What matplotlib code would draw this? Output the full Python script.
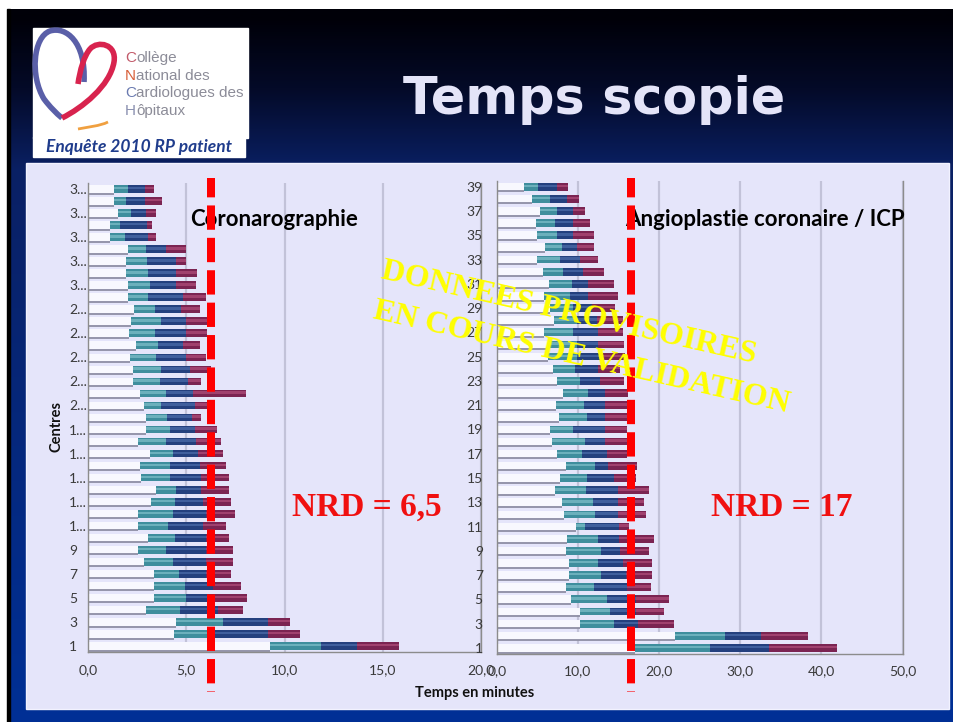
import matplotlib
matplotlib.use('Agg')
import matplotlib.pyplot as plt
import numpy as np
from matplotlib.path import Path
from matplotlib.patches import PathPatch, Rectangle

W, H = 954, 722

centres = np.arange(1, 40)

# Coronarographie : bornes des segments en minutes
coro_debut = [9.25, 4.36, 4.47, 2.97, 3.34, 3.34, 3.34, 2.85, 2.55, 3.06,
              2.55, 2.55, 3.23, 3.48, 2.72, 2.63, 3.14, 2.55, 2.94, 2.94,
              2.85, 2.63, 2.29, 2.29, 2.12, 2.43, 2.07, 2.20, 2.33, 2.04,
              2.04, 1.92, 1.92, 2.04, 1.10, 1.10, 1.53, 1.32, 1.31]
coro_lim1 = [11.88, 6.45, 6.88, 4.67, 4.97, 4.92, 4.63, 4.33, 3.99, 4.41,
             4.07, 4.33, 4.41, 4.47, 4.16, 4.16, 4.33, 3.96, 4.16, 4.00,
             3.74, 3.96, 3.65, 3.74, 3.48, 3.57, 3.40, 3.74, 3.40, 3.06,
             3.17, 3.06, 3.00, 2.94, 1.87, 1.61, 2.20, 1.95, 2.04]
coro_lim2 = [13.67, 9.17, 9.17, 6.62, 6.45, 6.37, 6.03, 6.03, 6.03, 6.03,
             5.86, 6.03, 5.86, 5.77, 5.77, 5.69, 5.60, 5.52, 5.43, 5.30,
             5.43, 5.35, 5.09, 5.18, 4.97, 4.84, 4.97, 5.00, 4.75, 4.84,
             4.47, 4.50, 4.47, 3.96, 3.06, 3.00, 2.97, 2.89, 2.90]
coro_fin = [15.82, 10.8, 10.3, 7.90, 8.10, 7.81, 7.30, 7.39, 7.39, 7.18,
            7.00, 7.47, 7.30, 7.18, 7.18, 7.00, 6.88, 6.79, 6.57, 5.77,
            6.30, 8.06, 5.77, 6.28, 6.03, 5.69, 6.06, 6.10, 5.69, 6.03,
            5.48, 5.57, 4.97, 4.97, 3.46, 3.26, 3.46, 3.77, 3.36]

# Angioplastie coronaire / ICP
icp_debut = [17.0, 22.0, 10.3, 10.2, 9.15, 8.54, 8.95, 8.90, 8.50, 8.70,
             9.77, 8.33, 8.00, 7.18, 7.80, 8.54, 7.47, 6.77, 6.57, 7.70,
             7.30, 8.13, 7.47, 6.90, 6.36, 6.36, 5.83, 7.00, 6.60, 5.83,
             6.49, 5.67, 4.93, 5.95, 4.93, 4.84, 5.34, 4.39, 3.37]
icp_lim1 = [26.3, 28.1, 14.4, 13.96, 13.6, 12.0, 12.9, 12.5, 12.9, 12.5,
            10.88, 12.1, 11.9, 11.0, 11.1, 12.1, 10.47, 10.88, 9.44, 11.1,
            10.7, 11.29, 10.26, 9.60, 9.85, 9.85, 9.44, 9.85, 9.40, 9.03,
            9.24, 8.21, 7.80, 8.00, 7.47, 7.18, 7.39, 6.57, 5.13]
icp_lim2 = [33.5, 32.6, 17.4, 17.2, 17.2, 16.0, 15.9, 15.6, 15.2, 15.1,
            15.1, 14.98, 14.98, 14.98, 14.45, 13.75, 13.55, 13.34, 13.34, 13.3,
            13.3, 13.34, 12.7, 12.5, 12.7, 12.5, 12.5, 12.3, 11.7, 11.29,
            11.29, 10.67, 10.26, 9.85, 9.44, 9.44, 9.44, 8.62, 7.47]
icp_fin = [41.9, 38.3, 21.8, 20.6, 21.2, 18.97, 19.1, 19.1, 18.76, 19.4,
           16.3, 18.35, 18.14, 18.76, 17.2, 17.3, 16.1, 16.1, 16.0, 16.0,
           16.2, 16.2, 15.7, 15.2, 15.8, 15.7, 15.6, 15.6, 14.6, 14.98,
           14.45, 13.26, 12.44, 11.99, 11.99, 11.5, 10.88, 10.14, 8.74]

coro_ylabels = ['1', '3', '5', '7', '9', '1...', '1...', '1...', '1...', '1...',
                '2...', '2...', '2...', '2...', '2...', '3...', '3...', '3...', '3...', '3...']
icp_ylabels = [str(c) for c in range(1, 40, 2)]

# position des lignes pointillées rouges (minutes)
nrd_ligne = [6.25, 16.5]
nrd_textes = ['NRD = 6,5', 'NRD = 17']

fig = plt.figure(figsize=(W / 100, H / 100), dpi=100)
fig.patch.set_facecolor('white')

# Fond de la diapositive
ax_bg = fig.add_axes([0, 0, 1, 1], zorder=-1)
ax_bg.set_xlim(0, W)
ax_bg.set_ylim(H, 0)
ax_bg.axis('off')
yy = np.arange(H)
stops_y = [9, 80, 163, 722]
grad = np.zeros((H, 1, 3))
for k, ch in enumerate([(0, 4, 10, 0), (0, 10, 32, 48), (8, 40, 100, 150)]):
    grad[:, 0, k] = np.interp(yy, stops_y, ch) / 255
ax_bg.imshow(grad, extent=(7, W, H, 9), aspect='auto', zorder=0)
ax_bg.add_patch(Rectangle((7, 9), 3, H, color='black', zorder=1))
ax_bg.add_patch(Rectangle((26, 163), 923, 546, facecolor='#e5e5fa',
                          edgecolor='#f2f2ff', lw=1, zorder=2))


def draw_chart(ax, debut, lim1, lim2, fin):
    debut = np.array(debut)
    lim1 = np.array(lim1)
    lim2 = np.array(lim2)
    fin = np.array(fin)
    h = 0.64
    ax.barh(centres, debut, height=h, color='#f8f8fe', zorder=2)
    ax.hlines(centres - h / 2 - 0.06, 0, debut, color='#8e8ea4', lw=1.3, zorder=2)
    segs = [(debut, lim1, '#3f8e9d', '#7cbcc7'),
            (lim1, lim2, '#24407e', '#4a6aa8'),
            (lim2, fin, '#7b2452', '#ad4c78')]
    for a, b, dark, light in segs:
        ax.barh(centres, b - a, left=a, height=h, color=dark, zorder=3)
        ax.barh(centres + 0.07, b - a, left=a, height=h * 0.32, color=light,
                alpha=0.75, zorder=3)


def setup_axis(ax, xmax, step, ylabels, ha, ypad, xpad):
    ax.set_facecolor('none')
    ax.set_xlim(0, xmax)
    ax.set_ylim(0.5, 39.5)
    ticks = np.arange(0, xmax + 0.01, step)
    ax.set_xticks(ticks)
    ax.set_xticklabels([f'{t:.1f}'.replace('.', ',') for t in ticks])
    ax.set_yticks(centres[::2])
    ax.set_yticklabels(ylabels)
    for t in ax.get_yticklabels():
        t.set_ha(ha)
    ax.tick_params(axis='y', length=0, pad=ypad, labelsize=10, labelcolor='#3a3a3a')
    ax.tick_params(axis='x', length=0, pad=xpad, labelsize=10, labelcolor='#3a3a3a')
    ax.grid(axis='x', color='#c2c2d8', lw=1.6)
    ax.set_axisbelow(True)
    ax.spines['top'].set_visible(False)
    for s in ['left', 'bottom', 'right']:
        ax.spines[s].set_color('#8c8c8c')
        ax.spines[s].set_linewidth(1)
    for t in ax.get_xticklabels() + ax.get_yticklabels():
        t.set_fontfamily('Lato')


ax1 = fig.add_axes([88 / W, (H - 652) / H, 393 / W, 469 / H], zorder=1)
draw_chart(ax1, coro_debut, coro_lim1, coro_lim2, coro_fin)
setup_axis(ax1, 20, 5, coro_ylabels, 'left', 13.7, 9)

ax2 = fig.add_axes([496.7 / W, (H - 654) / H, 406 / W, 473.4 / H], zorder=1)
draw_chart(ax2, icp_debut, icp_lim1, icp_lim2, icp_fin)
setup_axis(ax2, 50, 10, icp_ylabels, 'right', 10, 7.7)

# Couche de texte et d'annotations (coordonnées en pixels)
ax_o = fig.add_axes([0, 0, 1, 1], zorder=5)
ax_o.set_xlim(0, W)
ax_o.set_ylim(H, 0)
ax_o.axis('off')
ax_o.patch.set_alpha(0)
renderer = fig.canvas.get_renderer()

# logo
ax_o.add_patch(Rectangle((33, 28), 215, 110, color='white', zorder=1))
ax_o.add_patch(Rectangle((33, 137), 212, 20, color='white', zorder=1))
C4 = Path.CURVE4
blue = Path([(84, 82), (86, 42), (66, 26), (50, 31), (33, 37), (30, 76), (44, 99),
             (50, 107), (56, 113), (62, 118)],
            [Path.MOVETO, C4, C4, C4, C4, C4, C4, C4, C4, C4])
red = Path([(62, 118), (82, 108), (110, 86), (114, 62), (117, 44), (98, 40), (90, 49),
            (84, 56), (80, 70), (78, 84)],
           [Path.MOVETO, C4, C4, C4, C4, C4, C4, C4, C4, C4])
orange = Path([(78, 129), (88, 127), (100, 126), (108, 122)],
              [Path.MOVETO, C4, C4, C4])
ax_o.add_patch(PathPatch(blue, fill=False, edgecolor='#5a5fa8', lw=4, zorder=2))
ax_o.add_patch(PathPatch(red, fill=False, edgecolor='#d8234e', lw=4, zorder=2))
ax_o.add_patch(PathPatch(orange, fill=False, edgecolor='#f0a040', lw=2, zorder=2))
logo_lignes = ['Collège', 'National des', 'Cardiologues des', 'Hôpitaux']
logo_init = ['#c25a6a', '#d8603a', '#6a7ab0', '#8a90b0']
for i, (txt, col) in enumerate(zip(logo_lignes, logo_init)):
    y = 58 + i * 17.7
    t0 = ax_o.text(125, y, txt[0], fontsize=11, color=col, family='Liberation Sans',
                   ha='left', va='center', zorder=4)
    bb = t0.get_window_extent(renderer)
    ax_o.text(125 + bb.width, y, txt[1:], fontsize=11, color='#8c8c98',
              family='Liberation Sans', ha='left', va='center', zorder=3)
ax_o.text(139, 147, 'Enquête 2010 RP patient', fontsize=12.5, color='#1f3c8c',
          family='Lato', weight='bold', style='italic', ha='center', va='center', zorder=3)

ax_o.text(594, 100, 'Temps scopie', fontsize=36.5, color='#e4e4f8',
          family='DejaVu Sans', weight='bold', ha='center', va='center')

ax_o.text(190, 220, 'Coronarographie', fontsize=16, family='Lato', weight='bold',
          color='black', ha='left', va='center', zorder=3)
ax_o.text(625, 220, 'Angioplastie coronaire / ICP', fontsize=16, family='Lato',
          weight='bold', color='black', ha='left', va='center', zorder=3)

ax_o.text(367, 507, nrd_textes[0], fontsize=24, family='Liberation Serif', weight='bold',
          color='#f01010', ha='center', va='center', zorder=3)
ax_o.text(782, 507, nrd_textes[1], fontsize=24, family='Liberation Serif', weight='bold',
          color='#f01010', ha='center', va='center', zorder=3)

ax_o.text(475, 693, 'Temps en minutes', fontsize=10.5, family='Lato', weight='bold',
          color='#111111', ha='center', va='center')
ax_o.text(57, 426, 'Centres', fontsize=10.5, family='Lato', weight='bold',
          color='#111111', ha='center', va='center', rotation=90)

# lignes pointillées rouges
for ax, v in zip([ax1, ax2], nrd_ligne):
    xpix = ax.transData.transform((v, 1))[0]
    ax_o.plot([xpix, xpix], [178, 692], color='#ff0000', lw=5.76,
              linestyle=(0.62, (3.04, 1.01)), dash_capstyle='butt', zorder=4)

# filigrane
ax_o.text(569, 313, 'DONNEES PROVISOIRES', fontsize=23, family='Liberation Serif',
          weight='bold', color='#ffff00', rotation=-12.8, rotation_mode='anchor',
          ha='center', va='center', zorder=6)
ax_o.text(581, 358, 'EN COURS DE VALIDATION', fontsize=23, family='Liberation Serif',
          weight='bold', color='#ffff00', rotation=-12.8, rotation_mode='anchor',
          ha='center', va='center', zorder=6)

fig.savefig('out.png', dpi=100)
